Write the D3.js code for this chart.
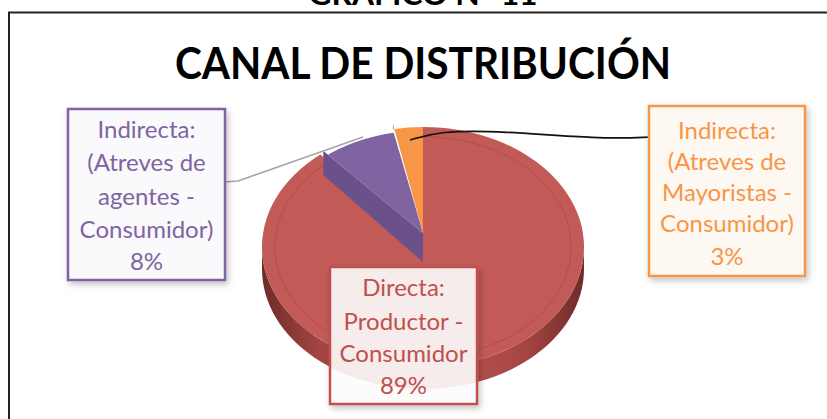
<!DOCTYPE html>
<html>
<head>
<meta charset="utf-8">
<script src="https://cdn.jsdelivr.net/npm/d3@7"></script>
<style>
  html, body { margin: 0; padding: 0; background: #fff; }
  svg { display: block; font-family: Lato, "Open Sans", sans-serif; }
</style>
</head>
<body>
<div id="chart"></div>
<script>
// data
const categories = ['Directa: Productor - Consumidor', 'Indirecta: (Atreves de agentes - Consumidor)', 'Indirecta: (Atreves de Mayoristas - Consumidor)']
const values = [89, 8, 3]
const labelLines = [
    ['Directa:', 'Productor -', 'Consumidor', '89%'],
    ['Indirecta:', '(Atreves de', 'agentes -', 'Consumidor)', '8%'],
    ['Indirecta:', '(Atreves de', 'Mayoristas -', 'Consumidor)', '3%']
]
const colors = ['#C0504D', '#8064A2', '#F79646']
const darkColors = ['#8E3A38', '#6B5189', '#C77430']

const width = 827
const height = 419

const svg = d3.select('#chart').append('svg')
    .attr('width', width).attr('height', height)

const defs = svg.append('defs')

// schaduw voor labels
const shadow = defs.append('filter').attr('id', 'shadow')
    .attr('x', '-20%').attr('y', '-20%').attr('width', '140%').attr('height', '140%')
shadow.append('feDropShadow')
    .attr('dx', 2).attr('dy', 3).attr('stdDeviation', 3)
    .attr('flood-color', '#000').attr('flood-opacity', 0.25)

// gradient voor de zijkant van de taart
const sideGrad = defs.append('linearGradient').attr('id', 'side')
    .attr('x1', '0%').attr('x2', '100%').attr('y1', '0%').attr('y2', '0%')
sideGrad.append('stop').attr('offset', '0%').attr('stop-color', '#6E2B2A')
sideGrad.append('stop').attr('offset', '18%').attr('stop-color', '#A54542')
sideGrad.append('stop').attr('offset', '50%').attr('stop-color', '#C05A56')
sideGrad.append('stop').attr('offset', '82%').attr('stop-color', '#A54542')
sideGrad.append('stop').attr('offset', '100%').attr('stop-color', '#6E2B2A')

// kader
svg.append('rect')
    .attr('x', 9).attr('y', 12.5)
    .attr('width', 900).attr('height', 500)
    .attr('fill', 'none').attr('stroke', '#222').attr('stroke-width', 2)

// titel bovenaan (afgesneden, zoals in het origineel)
svg.append('text')
    .attr('x', 423).attr('y', 5)
    .attr('text-anchor', 'middle')
    .attr('font-weight', 'bold')
    .attr('font-size', 30)
    .attr('textLength', 229).attr('lengthAdjust', 'spacingAndGlyphs')
    .text('GRAFICO N° 11')

svg.append('text')
    .attr('x', 423).attr('y', 79)
    .attr('text-anchor', 'middle')
    .attr('font-weight', 'bold')
    .attr('font-size', 43)
    .attr('textLength', 496).attr('lengthAdjust', 'spacingAndGlyphs')
    .text('CANAL DE DISTRIBUCIÓN')

// taart geometrie
const cx = 423
const cy = 247
const rx = 161
const ry = 120
const k = ry / rx
const depth = 22
const lift = 14
const shift = 6

const pie = d3.pie().sort(null).startAngle(0).endAngle(2 * Math.PI)
const arcs = pie(values)
const arc = d3.arc().innerRadius(0).outerRadius(rx)

// punt op de ellips
const proj = (a, r, dy) => [cx + Math.sin(a) * r, cy - Math.cos(a) * r * k + (dy || 0)]

// zijkant (voorste helft)
const sidePts = []
for (let i = 0; i <= 60; i++) {
    const a = 3 * Math.PI / 2 - i * Math.PI / 60
    sidePts.push(proj(a, rx, depth))
}
for (let i = 0; i <= 60; i++) {
    const a = Math.PI / 2 + i * Math.PI / 60
    sidePts.push(proj(a, rx, 0))
}
svg.append('path')
    .attr('d', d3.line()(sidePts) + 'Z')
    .attr('fill', 'url(#side)')

const pieG = svg.append('g')
    .attr('transform', `translate(${cx},${cy}) scale(1,${k})`)

// rode schijf
pieG.append('path')
    .attr('d', arc(arcs[0]))
    .attr('fill', '#C25B57')

// fijne binnenrand
pieG.append('path')
    .attr('d', d3.arc().innerRadius(rx * 0.92).outerRadius(rx * 0.92)
        .startAngle(arcs[0].startAngle).endAngle(arcs[0].endAngle)())
    .attr('fill', 'none')
    .attr('stroke', '#A84542').attr('stroke-opacity', 0.35)
    .attr('stroke-width', 1)
    .attr('vector-effect', 'non-scaling-stroke')

// wand van paarse punt
const pR = rx * 0.97
const o = proj(arcs[1].startAngle, pR, -shift)
const wall = [
    o,
    [cx, cy - lift],
    [cx, cy + 15],
    [o[0], o[1] + 24]
]
svg.append('path')
    .attr('d', d3.line()(wall) + 'Z')
    .attr('fill', darkColors[1])

// paarse en oranje punten, met opgetilde top
function liftedSlice(d, r) {
    const p = d3.path()
    const a0 = d.startAngle - Math.PI / 2
    const a1 = d.endAngle - Math.PI / 2
    p.moveTo(0, -lift / k)
    p.lineTo(Math.cos(a0) * r, Math.sin(a0) * r - shift / k)
    p.arc(0, 0, r, a0, a1)
    p.closePath()
    return p.toString()
}
pieG.append('path')
    .attr('d', liftedSlice(arcs[1], pR))
    .attr('fill', colors[1])
pieG.append('path')
    .attr('d', liftedSlice(arcs[2], rx))
    .attr('fill', colors[2])

// verbindingslijnen
svg.append('path')
    .attr('d', d3.line()([[225, 182], [238, 181], [363, 137]]))
    .attr('fill', 'none').attr('stroke', '#A6A6A6').attr('stroke-width', 1.6)

svg.append('path')
    .attr('d', d3.line().curve(d3.curveBasis)([[410, 140], [440, 131], [500, 131], [600, 139], [652, 137]]))
    .attr('fill', 'none').attr('stroke', '#111').attr('stroke-width', 1.6)

// labels
const boxes = [
    { x: 330, y: 267, w: 147, h: 137, fill: 'rgba(255,255,255,0.88)', lines: [288, 322, 354, 386] },
    { x: 68, y: 109, w: 157, h: 171, fill: '#FAF9FC', lines: [130, 163, 197, 230, 262] },
    { x: 649, y: 106, w: 156, h: 170, fill: '#FEF8F3', lines: [131, 162, 193, 224, 257] }
]

boxes.forEach((b, i) => {
    const g = svg.append('g')
    g.append('rect')
        .attr('x', b.x).attr('y', b.y)
        .attr('width', b.w).attr('height', b.h)
        .attr('fill', b.fill)
        .attr('stroke', colors[i]).attr('stroke-width', 2.5)
        .attr('filter', 'url(#shadow)')
    g.selectAll('text').data(labelLines[i]).enter().append('text')
        .attr('x', b.x + b.w / 2)
        .attr('y', (d, j) => b.lines[j])
        .attr('dy', '0.35em')
        .attr('text-anchor', 'middle')
        .attr('font-size', 24)
        .attr('fill', colors[i])
        .text(d => d)
})
</script>
</body>
</html>
